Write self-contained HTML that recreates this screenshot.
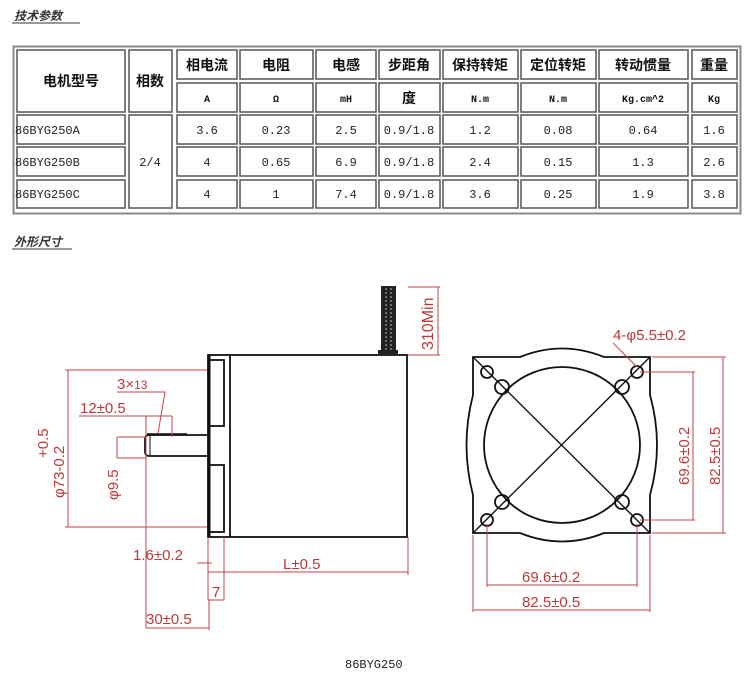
<!DOCTYPE html>
<html><head><meta charset="utf-8"><style>
html,body{margin:0;padding:0;background:#fff;width:750px;height:690px;overflow:hidden}
svg{display:block}
.c{font-family:"Liberation Sans","Noto Sans CJK SC",sans-serif;font-weight:bold;font-size:14px;fill:#111}
.m{font-family:"Liberation Mono","DejaVu Sans Mono",monospace;font-size:12px;fill:#222}
.u{font-family:"Liberation Mono",monospace;font-size:10px;font-weight:bold;fill:#111}
.r{font-family:"Liberation Sans","DejaVu Sans",sans-serif;font-size:15px;fill:#b83a3a}
.k{stroke:#111;fill:none;stroke-width:1.8}
.d{stroke:#c0454a;fill:none;stroke-width:1}
</style></head><body>
<svg width="750" height="690" viewBox="0 0 750 690">
<text x="14" y="20" style="font-family:'Noto Sans CJK SC',sans-serif;font-size:12px;font-weight:bold;font-style:italic;fill:#333">技术参数</text>
<line x1="12" y1="23" x2="80" y2="23" stroke="#333" stroke-width="1"/>
<!-- table -->
<rect x="13.5" y="46.5" width="727" height="167" fill="none" stroke="#888" stroke-width="2"/>
<g fill="none" stroke="#555" stroke-width="1.5">
<rect x="17" y="50" width="108" height="62"/>
<rect x="129" y="50" width="43" height="62"/>
<rect x="129" y="115" width="43" height="93"/>
<rect x="17" y="115" width="108" height="29"/><rect x="17" y="147" width="108" height="29"/><rect x="17" y="180" width="108" height="28"/>
</g>
<g fill="none" stroke="#555" stroke-width="1.5" id="cols">
<rect x="177" y="50" width="60" height="29"/><rect x="177" y="83" width="60" height="29"/><rect x="177" y="115" width="60" height="29"/><rect x="177" y="147" width="60" height="29"/><rect x="177" y="180" width="60" height="28"/>
<rect x="240" y="50" width="73" height="29"/><rect x="240" y="83" width="73" height="29"/><rect x="240" y="115" width="73" height="29"/><rect x="240" y="147" width="73" height="29"/><rect x="240" y="180" width="73" height="28"/>
<rect x="316" y="50" width="60" height="29"/><rect x="316" y="83" width="60" height="29"/><rect x="316" y="115" width="60" height="29"/><rect x="316" y="147" width="60" height="29"/><rect x="316" y="180" width="60" height="28"/>
<rect x="379" y="50" width="61" height="29"/><rect x="379" y="83" width="61" height="29"/><rect x="379" y="115" width="61" height="29"/><rect x="379" y="147" width="61" height="29"/><rect x="379" y="180" width="61" height="28"/>
<rect x="443" y="50" width="75" height="29"/><rect x="443" y="83" width="75" height="29"/><rect x="443" y="115" width="75" height="29"/><rect x="443" y="147" width="75" height="29"/><rect x="443" y="180" width="75" height="28"/>
<rect x="521" y="50" width="75" height="29"/><rect x="521" y="83" width="75" height="29"/><rect x="521" y="115" width="75" height="29"/><rect x="521" y="147" width="75" height="29"/><rect x="521" y="180" width="75" height="28"/>
<rect x="599" y="50" width="89" height="29"/><rect x="599" y="83" width="89" height="29"/><rect x="599" y="115" width="89" height="29"/><rect x="599" y="147" width="89" height="29"/><rect x="599" y="180" width="89" height="28"/>
<rect x="692" y="50" width="45" height="29"/><rect x="692" y="83" width="45" height="29"/><rect x="692" y="115" width="45" height="29"/><rect x="692" y="147" width="45" height="29"/><rect x="692" y="180" width="45" height="28"/>
</g>
<g class="c" text-anchor="middle">
<text x="71" y="86">电机型号</text><text x="150" y="86">相数</text>
<text x="207" y="70">相电流</text><text x="276" y="70">电阻</text><text x="346" y="70">电感</text><text x="409" y="70">步距角</text><text x="480" y="70">保持转矩</text><text x="558" y="70">定位转矩</text><text x="643" y="70">转动惯量</text><text x="714" y="70">重量</text>
<text x="409" y="103">度</text>
</g>
<g class="u" text-anchor="middle">
<text x="207" y="102">A</text><text x="276" y="102">Ω</text><text x="346" y="102">mH</text><text x="480" y="102">N.m</text><text x="558" y="102">N.m</text><text x="643" y="102">Kg.cm^2</text><text x="714" y="102">Kg</text>
</g>
<g class="m">
<text x="15" y="134">86BYG250A</text><text x="15" y="166">86BYG250B</text><text x="15" y="198">86BYG250C</text>
</g>
<g class="m" text-anchor="middle">
<text x="150" y="166">2/4</text>
<text x="207" y="134">3.6</text><text x="276" y="134">0.23</text><text x="346" y="134">2.5</text><text x="409" y="134">0.9/1.8</text><text x="480" y="134">1.2</text><text x="558" y="134">0.08</text><text x="643" y="134">0.64</text><text x="714" y="134">1.6</text>
<text x="207" y="166">4</text><text x="276" y="166">0.65</text><text x="346" y="166">6.9</text><text x="409" y="166">0.9/1.8</text><text x="480" y="166">2.4</text><text x="558" y="166">0.15</text><text x="643" y="166">1.3</text><text x="714" y="166">2.6</text>
<text x="207" y="198">4</text><text x="276" y="198">1</text><text x="346" y="198">7.4</text><text x="409" y="198">0.9/1.8</text><text x="480" y="198">3.6</text><text x="558" y="198">0.25</text><text x="643" y="198">1.9</text><text x="714" y="198">3.8</text>
</g>
<text x="14" y="246" style="font-family:'Noto Sans CJK SC',sans-serif;font-size:12px;font-weight:bold;font-style:italic;fill:#333">外形尺寸</text>
<line x1="12" y1="249" x2="72" y2="249" stroke="#333" stroke-width="1"/>

<!-- side view -->
<rect x="208" y="355" width="199" height="182" class="k"/>
<line x1="209" y1="355" x2="209" y2="537" stroke="#111" stroke-width="3"/>
<line x1="230" y1="355" x2="230" y2="537" class="k"/>
<rect x="209" y="360" width="15" height="66" class="k"/>
<rect x="209" y="465" width="15" height="67" class="k"/>
<path d="M207 435 H149 Q145 435 145 440 V451 Q145 456 149 456 H207" class="k"/>
<line x1="150" y1="435" x2="150" y2="456" stroke="#111" stroke-width="1"/>
<line x1="147" y1="434" x2="187" y2="434" stroke="#111" stroke-width="1.5"/>
<rect x="381" y="286" width="15" height="66" fill="#222"/>
<line x1="386" y1="288" x2="386" y2="350" stroke="#bbb" stroke-width="1" stroke-dasharray="2,2"/>
<line x1="391" y1="288" x2="391" y2="350" stroke="#bbb" stroke-width="1" stroke-dasharray="2,2"/>
<rect x="378" y="350" width="20" height="4" fill="#222"/>
<g class="d">
<path d="M408 287 H440 M408 355 H440 M438 287 V355"/>
<path d="M207 370 H65 M207 527 H65 M68 370 V527"/>
<path d="M117 392 H165 L158 433"/>
<path d="M79 416 H172 M146 416 V628 M172 416 V437"/>
<path d="M117 437 V458 M117 437 H146 M117 458 H146"/>
<path d="M197 563 H212 M208 537 V600 M224 537 V600 M208 572 H408 M408 537 V575 M208 600 H224"/>
<path d="M146 628 H209 M209 600 V630"/>
</g>
<g class="r">
<text x="0" y="0" transform="translate(433,350) rotate(-90)" font-size="16">310Min</text>
<text x="117" y="389" font-size="15">3×<tspan font-size="12">13</tspan></text>
<text x="80" y="413">12±0.5</text>
<text x="0" y="0" transform="translate(64,498) rotate(-90)">φ73-0.2</text>
<text x="0" y="0" transform="translate(48,458) rotate(-90)">+0.5</text>
<text x="0" y="0" transform="translate(118,500) rotate(-90)">φ9.5</text>
<text x="133" y="560">1.6±0.2</text>
<text x="283" y="569">L±0.5</text>
<text x="212" y="597">7</text>
<text x="146" y="624">30±0.5</text>
</g>

<!-- front view -->
<path d="M473 357 H520 Q562 340 604 357 H650 V395 Q664 445 650 495 V533 H604 Q562 550 520 533 H473 V495 Q460 445 473 395 Z" class="k" stroke-width="1.6"/>
<circle cx="562" cy="445" r="78" class="k" stroke-width="1.6"/>
<line x1="473" y1="357" x2="650" y2="533" stroke="#111" stroke-width="1.4"/>
<line x1="650" y1="357" x2="473" y2="533" stroke="#111" stroke-width="1.4"/>
<g class="k" stroke-width="1.5">
<circle cx="487" cy="372" r="6"/><circle cx="637" cy="372" r="6"/><circle cx="487" cy="520" r="6"/><circle cx="637" cy="520" r="6"/>
<circle cx="502" cy="387" r="7"/><circle cx="622" cy="387" r="7"/><circle cx="502" cy="502" r="7"/><circle cx="622" cy="502" r="7"/>
</g>
<g class="d">
<path d="M613 343 L637 367"/>
<path d="M640 372 H695 M640 520 H695 M693 372 V520"/>
<path d="M652 357 H726 M652 533 H726 M723 357 V533"/>
<path d="M487 524 V587 M637 524 V587 M487 585 H637"/>
<path d="M473 535 V612 M650 535 V612 M473 610 H650"/>
</g>
<g class="r">
<text x="613" y="340">4-φ5.5±0.2</text>
<text x="0" y="0" transform="translate(689,485) rotate(-90)">69.6±0.2</text>
<text x="0" y="0" transform="translate(720,485) rotate(-90)">82.5±0.5</text>
<text x="522" y="582">69.6±0.2</text>
<text x="522" y="607">82.5±0.5</text>
</g>
<text x="345" y="668" class="m" font-size="11">86BYG250</text>
</svg>
</body></html>
